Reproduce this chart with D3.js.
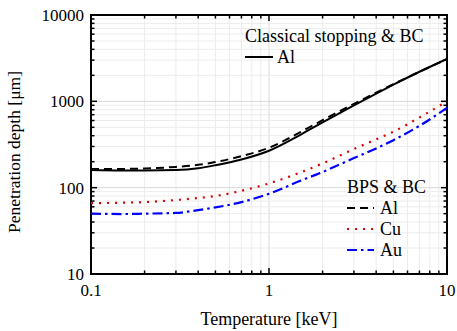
<!DOCTYPE html>
<html>
<head>
<meta charset="utf-8">
<script src="https://cdn.jsdelivr.net/npm/d3@7"></script>
<style>
  body { margin: 0; background: #fff; }
  text { font-family: "Liberation Serif", "DejaVu Serif", serif; fill: #000; }
</style>
</head>
<body>
<div class="svg-container"></div>
<script>
// temperature [keV]
const temps = [0.1, 0.15, 0.2, 0.3, 0.4, 0.5, 0.7, 1, 1.5, 2, 3, 4, 5, 7, 10];
// penetration depth [um]
const classicalAl = [160, 158, 158, 160, 168, 182, 212, 268, 410, 570, 900, 1230, 1560, 2200, 3100];
const bpsAl = [165, 165, 167, 174, 184, 198, 232, 290, 440, 605, 935, 1260, 1580, 2200, 3080];
const bpsCu = [66, 67, 68, 72, 76, 80, 92, 112, 150, 191, 280, 363, 445, 650, 1000];
const bpsAu = [50, 49.5, 50, 51, 55, 59, 68, 85, 120, 152, 220, 285, 355, 520, 840];

const xTicks = [0.1, 1, 10];
const yTicks = [10, 100, 1000, 10000];

const W = 457, H = 331;
const margin = { top: 15, right: 10, bottom: 57, left: 91 };
const width = W - margin.left - margin.right;
const height = H - margin.top - margin.bottom;

const svg = d3.select(".svg-container")
  .append("svg")
  .attr("width", W)
  .attr("height", H)
  .append("g")
  .attr("transform", "translate(" + margin.left + "," + margin.top + ")");

const xScale = d3.scaleLog().domain([0.1, 10]).range([0, width]);
const yScale = d3.scaleLog().domain([10, 10000]).range([height, 0]);

// minor + major values for grid and ticks
const xAll = [];
for (let e = -1; e < 1; e++) for (let m = 1; m < 10; m++) xAll.push(m * Math.pow(10, e));
xAll.push(10);
const yAll = [];
for (let e = 1; e < 4; e++) for (let m = 1; m < 10; m++) yAll.push(m * Math.pow(10, e));
yAll.push(10000);
const isMajor = v => Math.abs(Math.log10(v) - Math.round(Math.log10(v))) < 1e-9;

// GRID
svg.append("g").selectAll("line")
  .data(xAll)
  .enter().append("line")
  .attr("x1", d => xScale(d)).attr("x2", d => xScale(d))
  .attr("y1", 0).attr("y2", height)
  .attr("stroke", d => isMajor(d) ? "#d8d8d8" : "#ececec")
  .attr("stroke-width", 1);
svg.append("g").selectAll("line")
  .data(yAll)
  .enter().append("line")
  .attr("y1", d => yScale(d)).attr("y2", d => yScale(d))
  .attr("x1", 0).attr("x2", width)
  .attr("stroke", d => isMajor(d) ? "#d8d8d8" : "#ececec")
  .attr("stroke-width", 1);

// INWARD TICKS ON ALL SIDES
function tickLen(v) { return isMajor(v) ? 6 : 3.5; }
const ticks = svg.append("g").attr("stroke", "#000").attr("stroke-width", 1.5);
xAll.forEach(v => {
  ticks.append("line").attr("x1", xScale(v)).attr("x2", xScale(v)).attr("y1", height).attr("y2", height - tickLen(v));
  ticks.append("line").attr("x1", xScale(v)).attr("x2", xScale(v)).attr("y1", 0).attr("y2", tickLen(v));
});
yAll.forEach(v => {
  ticks.append("line").attr("y1", yScale(v)).attr("y2", yScale(v)).attr("x1", 0).attr("x2", tickLen(v));
  ticks.append("line").attr("y1", yScale(v)).attr("y2", yScale(v)).attr("x1", width).attr("x2", width - tickLen(v));
});

// FRAME
svg.append("rect")
  .attr("width", width).attr("height", height)
  .attr("fill", "none").attr("stroke", "#000").attr("stroke-width", 2);

// TICK LABELS
svg.append("g").selectAll("text")
  .data(xTicks)
  .enter().append("text")
  .attr("x", d => xScale(d))
  .attr("y", height + 22)
  .attr("text-anchor", "middle")
  .style("font-size", "17px")
  .text(d => d);
svg.append("g").selectAll("text")
  .data(yTicks)
  .enter().append("text")
  .attr("x", -7)
  .attr("y", d => yScale(d) + 6)
  .attr("text-anchor", "end")
  .style("font-size", "17px")
  .text(d => d);

// AXIS TITLES
svg.append("text")
  .attr("x", width / 2)
  .attr("y", height + 51)
  .attr("text-anchor", "middle")
  .style("font-size", "18px")
  .text("Temperature [keV]");
svg.append("text")
  .attr("transform", "translate(" + (-71) + "," + 137 + ") rotate(-90)")
  .attr("text-anchor", "middle")
  .style("font-size", "17.5px")
  .text("Penetration depth [\u03bcm]");

// CURVES
const line = d3.line()
  .x(d => xScale(d[0]))
  .y(d => yScale(d[1]))
  .curve(d3.curveMonotoneX);

const series = [
  { vals: classicalAl, color: "#000", dash: null, w: 2 },
  { vals: bpsAl, color: "#000", dash: "8,5", w: 2 },
  { vals: bpsCu, color: "#e00000", dash: "2,6", w: 2.2 },
  { vals: bpsAu, color: "#0000ff", dash: "10,4,2.5,4", w: 2.2 }
];
series.forEach(s => {
  svg.append("path")
    .datum(temps.map((t, i) => [t, s.vals[i]]))
    .attr("fill", "none")
    .attr("stroke", s.color)
    .attr("stroke-width", s.w)
    .attr("stroke-dasharray", s.dash)
    .attr("d", line);
});

// LEGENDS
svg.append("text")
  .attr("x", 154).attr("y", 27)
  .style("font-size", "18px")
  .text("Classical stopping & BC");
svg.append("line")
  .attr("x1", 154).attr("x2", 182).attr("y1", 42).attr("y2", 42)
  .attr("stroke", "#000").attr("stroke-width", 2);
svg.append("text")
  .attr("x", 186).attr("y", 48)
  .style("font-size", "18px")
  .text("Al");

svg.append("text")
  .attr("x", 256).attr("y", 178)
  .style("font-size", "18px")
  .text("BPS & BC");
const bpsLegend = [
  { name: "Al", s: series[1] },
  { name: "Cu", s: series[2] },
  { name: "Au", s: series[3] }
];
bpsLegend.forEach((d, i) => {
  const y = 193 + i * 21;
  svg.append("line")
    .attr("x1", 256).attr("x2", 283).attr("y1", y).attr("y2", y)
    .attr("stroke", d.s.color).attr("stroke-width", d.s.w)
    .attr("stroke-dasharray", d.s.dash);
  svg.append("text")
    .attr("x", 289).attr("y", y + 6)
    .style("font-size", "18px")
    .text(d.name);
});
</script>
</body>
</html>
